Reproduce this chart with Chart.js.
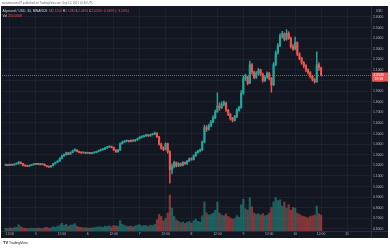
<!DOCTYPE html>
<html>
<head>
<meta charset="utf-8">
<script src="https://cdn.jsdelivr.net/npm/chart.js@4.4.0/dist/chart.umd.min.js"></script>
<style>
html, body { margin: 0; padding: 0; background: #fff; }
#wrap { position: relative; width: 390px; height: 248px; }
</style>
</head>
<body>
<div id="wrap"><canvas id="candleChart" width="390" height="248"></canvas></div>
<script>
// hourly candles, Sep 4 10:00 -> Sep 10 12:00 (hours counted from Sep 4 00:00)
var startHour = 10;
var firstOpen = 1.202;
var closes = [
  1.205,1.200,1.208,1.203,1.212,1.215,1.230,1.218,1.200,1.196, 1.192,1.200,1.207,1.212,1.210,1.214,1.208,1.211,1.198,1.188, 1.185,1.196,1.215,1.228,1.240,1.265,
  1.290,1.300,1.318,1.305,1.322,1.338,1.345,1.330,1.322,1.318, 1.320,1.315,1.318,1.312,1.318,1.322,1.330,1.340,1.348,1.352, 1.365,1.372,1.378,1.370,1.345,1.328,1.345,
  1.405,1.420,1.428,1.432,1.425,1.436,1.430,1.440,1.452,1.466, 1.470,1.478,1.485,1.478,1.490,1.495,1.505,
  1.470,1.400,1.365,1.350,1.405,1.330,1.160,1.190,1.225,1.195, 1.215,1.200,1.228,1.215,1.240,1.262,1.255,1.290,1.320,1.335, 1.345,
  1.420,1.555,1.540,1.575,1.610,1.650,1.705,1.760,1.745,1.775, 1.790,1.720,1.680,1.640,1.625,1.660,1.720,1.745,
  1.880,2.020,2.035,1.975,2.150,2.080,2.030,2.070,2.100,2.060, 2.000,2.030,2.070,2.020,1.960,2.150,2.260,2.330,2.420,2.440, 2.390,2.445,2.400,2.320,2.300,2.360,2.250,2.210,2.170,2.140, 2.100,2.075,2.040,2.010,1.990,2.150,2.120,2.053
];
var highs = [
  1.210,1.209,1.212,1.211,1.216,1.222,1.238,1.233,1.220,1.204, 1.199,1.204,1.211,1.216,1.215,1.219,1.216,1.214,1.213,1.200, 1.192,1.199,1.218,1.232,1.246,1.272,
  1.298,1.310,1.325,1.322,1.328,1.344,1.358,1.348,1.334,1.326, 1.325,1.323,1.322,1.320,1.321,1.326,1.334,1.345,1.353,1.358, 1.370,1.380,1.385,1.382,1.373,1.350,1.352,
  1.412,1.428,1.436,1.440,1.437,1.442,1.440,1.446,1.458,1.472, 1.478,1.485,1.492,1.490,1.495,1.502,1.514,
  1.508,1.474,1.410,1.375,1.412,1.410,1.338,1.215,1.240,1.232, 1.225,1.222,1.236,1.234,1.248,1.270,1.272,1.298,1.328,1.345, 1.356,
  1.430,1.580,1.575,1.590,1.625,1.668,1.722,1.885,1.790,1.800, 1.810,1.798,1.728,1.690,1.652,1.672,1.735,1.760,
  1.905,2.045,2.060,2.040,2.185,2.160,2.090,2.085,2.115,2.108, 2.070,2.045,2.082,2.078,2.030,2.170,2.280,2.350,2.440,2.465, 2.450,2.480,2.460,2.410,2.340,2.410,2.365,2.262,2.220,2.180, 2.150,2.110,2.085,2.050,2.020,2.270,2.170,2.128
];
var lows = [
  1.198,1.196,1.197,1.199,1.201,1.209,1.212,1.214,1.196,1.191, 1.188,1.189,1.198,1.204,1.206,1.208,1.205,1.204,1.195,1.184, 1.180,1.183,1.194,1.212,1.225,1.238,
  1.262,1.285,1.296,1.300,1.302,1.318,1.334,1.326,1.318,1.312, 1.314,1.311,1.312,1.308,1.309,1.315,1.319,1.327,1.336,1.344, 1.349,1.361,1.368,1.365,1.340,1.322,1.325,
  1.342,1.400,1.414,1.422,1.419,1.421,1.425,1.427,1.436,1.448, 1.460,1.465,1.472,1.472,1.474,1.485,1.490,
  1.462,1.390,1.352,1.338,1.345,1.315,1.032,1.120,1.175,1.185, 1.188,1.192,1.196,1.208,1.210,1.235,1.248,1.250,1.285,1.315, 1.328,
  1.340,1.412,1.520,1.532,1.565,1.600,1.640,1.700,1.720,1.735, 1.762,1.710,1.668,1.628,1.610,1.618,1.650,1.712,
  1.738,1.870,2.000,1.960,1.970,2.060,2.015,2.020,2.055,2.045, 1.985,1.990,2.020,2.005,1.890,1.950,2.140,2.250,2.320,2.400, 2.375,2.380,2.390,2.305,2.285,2.290,2.235,2.195,2.155,2.120, 2.085,2.060,2.025,1.995,1.975,1.985,2.095,2.045
];
// volume in thousands
var volumes = [
  40,35,45,38,50,55,90,60,45,40, 35,38,42,40,36,44,38,35,48,52, 40,45,60,55,65,85,
  110,80,95,70,85,90,105,70,55,50, 45,48,42,40,45,50,55,62,58,55, 70,65,75,60,80,75,70,
  150,95,80,70,65,72,60,75,85,90, 70,80,78,65,85,80,95,
  160,240,210,150,180,260,520,330,210,160, 140,120,130,110,125,140,115,150,170,140, 130,
  220,420,260,230,240,260,300,420,260,230, 220,250,210,190,170,180,220,200,
  380,460,320,300,480,350,260,240,250,230, 250,220,230,260,340,420,480,440,450,360, 420,330,380,300,340,330,260,240,220,210, 200,190,210,220,230,360,250,230
];
var opens = [firstOpen].concat(closes.slice(0, -1));

var priceTicks = [0.6,0.7,0.8,0.9,1.0,1.1,1.2,1.3,1.4,1.5,1.6,1.7,1.8,1.9,2.0,2.1,2.2,2.3,2.4,2.5,2.6];
var timeTicks = [12,24,36,48,60,72,84,96,108,120,132,144,156,168];
var timeLabels = ['12:00','5','12:00','6','12:00','7','12:00','8','12:00','9','12:00','10','12:00','11'];

var UP = '#26a69a', DOWN = '#ef5350';
var UP_V = 'rgba(38,166,154,0.5)', DOWN_V = 'rgba(239,83,80,0.5)';
var FONT = '"Liberation Sans", Arial, sans-serif';

var last = closes.length - 1;
var isUp = closes.map(function (c, i) { return c >= opens[i]; });
var bodyData = closes.map(function (c, i) { return { x: startHour + i, y: [opens[i], c] }; });
var wickData = closes.map(function (c, i) { return { x: startHour + i, y: [lows[i], highs[i]] }; });
var volData = volumes.map(function (v, i) { return { x: startHour + i, y: v }; });

function segs(ctx, x, y, list, font) {
  ctx.font = font;
  list.forEach(function (s) {
    ctx.fillStyle = s[1];
    ctx.fillText(s[0], x, y);
    x += ctx.measureText(s[0]).width;
  });
}

var panel = {
  id: 'panel',
  beforeDraw: function (chart) {
    var ctx = chart.ctx;
    ctx.save();
    ctx.fillStyle = '#ffffff';
    ctx.fillRect(0, 0, 390, 248);
    ctx.fillStyle = '#131722';
    ctx.fillRect(1, 6, 387, 232);
    ctx.textBaseline = 'middle';
    ctx.fillStyle = '#6a6d78';
    ctx.font = '2.8px ' + FONT;
    ctx.fillText('nanotensome97 published on TradingView.com, Sep 10, 2021 10:40 UTC', 2, 3);
    ctx.fillStyle = '#131722';
    ctx.font = 'bold 4px ' + FONT;
    ctx.fillText('TV', 3, 243);
    ctx.font = '3.4px ' + FONT;
    ctx.fillText('TradingView', 9, 243);
    ctx.restore();
  },
  afterDatasetsDraw: function (chart) {
    var ctx = chart.ctx, a = chart.chartArea, ys = chart.scales.y;
    var lp = closes[last];
    var py = Math.round(ys.getPixelForValue(lp)) + 0.5;
    var col = isUp[last] ? UP : DOWN;
    ctx.save();
    // pane borders
    ctx.strokeStyle = '#2a2e39';
    ctx.lineWidth = 1;
    ctx.beginPath();
    ctx.moveTo(a.right + 0.5, 6); ctx.lineTo(a.right + 0.5, 238);
    ctx.moveTo(1, a.bottom + 0.5); ctx.lineTo(388, a.bottom + 0.5);
    ctx.stroke();
    // last price line
    ctx.strokeStyle = col;
    ctx.globalAlpha = 0.8;
    ctx.setLineDash([1, 1]);
    ctx.beginPath();
    ctx.moveTo(a.left, py); ctx.lineTo(a.right, py);
    ctx.stroke();
    ctx.setLineDash([]);
    ctx.globalAlpha = 1;
    // last price label
    ctx.fillStyle = col;
    ctx.fillRect(a.right + 1, py - 3, 16, 9);
    ctx.fillStyle = '#ffffff';
    ctx.textBaseline = 'middle';
    ctx.font = '3.4px ' + FONT;
    ctx.fillText(lp.toFixed(4), a.right + 2.5, py - 0.3);
    ctx.fillText('19:18', a.right + 3.5, py + 3.6);
    // currency
    ctx.fillStyle = '#b2b5be';
    ctx.font = '3px ' + FONT;
    ctx.fillText('USD', a.right + 5, 11);
    // legend header
    var L = '#d1d4dc', R = col;
    var chg = closes[last] - closes[last - 1];
    var pct = chg / closes[last - 1] * 100;
    segs(ctx, 2.5, 11.5, [
      ['Algorand / USD, 30, BINANCE', L],
      ['  O', L], [opens[last].toFixed(4), R],
      [' H', L], [highs[last].toFixed(4), R],
      [' L', L], [lows[last].toFixed(4), R],
      [' C', L], [closes[last].toFixed(4), R],
      [' ' + (chg < 0 ? '\u2212' : '+') + Math.abs(chg).toFixed(4) + ' (' + (chg < 0 ? '\u2212' : '+') + Math.abs(pct).toFixed(2) + '%)', R]
    ], '3.3px ' + FONT);
    segs(ctx, 2.5, 15.6, [['Vol ', L], [volumes[last].toFixed(3) + 'K', R]], '3.3px ' + FONT);
    ctx.restore();
  }
};

var ctxC = document.getElementById('candleChart').getContext('2d');
var candleChart = new Chart(ctxC, {
  type: 'bar',
  data: {
    datasets: [
      {
        label: 'Body',
        data: bodyData,
        yAxisID: 'y',
        order: 1,
        barThickness: 1.5,
        minBarLength: 1,
        grouped: false,
        backgroundColor: isUp.map(function (u) { return u ? UP : DOWN; })
      },
      {
        label: 'Wick',
        data: wickData,
        yAxisID: 'y',
        order: 2,
        barThickness: 0.8,
        grouped: false,
        backgroundColor: isUp.map(function (u) { return u ? UP : DOWN; })
      },
      {
        label: 'Volume',
        data: volData,
        yAxisID: 'vol',
        order: 3,
        barThickness: 1.6,
        grouped: false,
        backgroundColor: isUp.map(function (u) { return u ? UP_V : DOWN_V; })
      }
    ]
  },
  options: {
    responsive: false,
    devicePixelRatio: 1,
    animation: false,
    events: [],
    layout: { padding: { left: 2, top: 7, right: 2, bottom: 10 } },
    plugins: { legend: { display: false }, tooltip: { enabled: false } },
    scales: {
      x: {
        type: 'linear',
        min: 8.3,
        max: 179.1,
        offset: false,
        grid: { offset: false, color: 'rgba(54,60,78,0.25)', drawTicks: false },
        border: { display: false },
        ticks: {
          autoSkip: false, maxRotation: 0, padding: 1.5,
          color: '#b2b5be',
          font: { size: 3.4, family: FONT },
          callback: function (v, i) { return timeLabels[i]; }
        },
        afterBuildTicks: function (s) { s.ticks = timeTicks.map(function (v) { return { value: v }; }); },
        afterFit: function (s) { s.height = 7; }
      },
      y: {
        position: 'right',
        min: 0.581,
        max: 2.694,
        grid: { color: 'rgba(54,60,78,0.25)', drawTicks: false },
        border: { display: false },
        ticks: {
          padding: 2,
          color: '#b2b5be',
          font: { size: 3.4, family: FONT },
          callback: function (v) { return v.toFixed(4); }
        },
        afterBuildTicks: function (s) { s.ticks = priceTicks.map(function (v) { return { value: v }; }); },
        afterFit: function (s) { s.width = 17; }
      },
      vol: {
        display: false,
        min: 0,
        max: 3235
      }
    }
  },
  plugins: [panel]
});
</script>
</body>
</html>
